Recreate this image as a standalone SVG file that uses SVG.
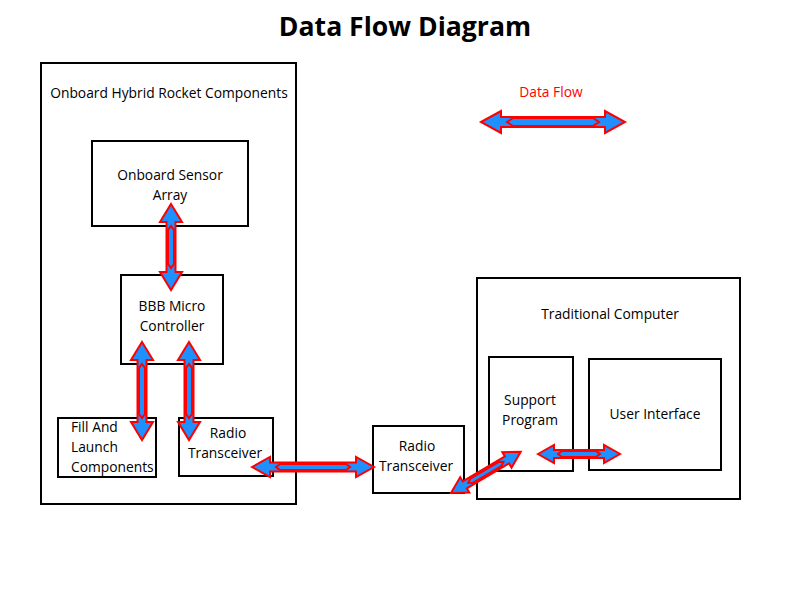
<svg xmlns="http://www.w3.org/2000/svg" width="800" height="600" viewBox="0 0 800 600">
<style>
.box{fill:#fff;stroke:#000;stroke-width:2}
.t{font-family:"Open Sans","Liberation Sans",sans-serif;font-size:13.8px;fill:#000}
.c{text-anchor:middle}
.arr{fill:#1e90ff;stroke:#ff0000;stroke-width:2;stroke-linejoin:miter}
</style>
<rect width="800" height="600" fill="#fff"/>
<text x="405" y="36" text-anchor="middle" font-family="'Open Sans','Liberation Sans',sans-serif" font-weight="bold" font-size="26.6">Data Flow Diagram</text>

<g id="rocket">
<rect class="box" x="41" y="63" width="255" height="441"/>
<text class="t" x="169" y="98" text-anchor="middle">Onboard Hybrid Rocket Components</text>
</g>
<g id="sensor">
<rect class="box" x="92" y="141" width="156" height="85"/>
<text class="t c" x="170" y="180">Onboard Sensor</text>
<text class="t c" x="170" y="200">Array</text>
</g>
<g id="bbb">
<rect class="box" x="121" y="275" width="102" height="89"/>
<text class="t c" x="172" y="311">BBB Micro</text>
<text class="t c" x="172" y="331">Controller</text>
</g>
<g id="fill">
<rect class="box" x="58" y="418" width="98" height="59"/>
<text class="t" x="71" y="432">Fill And</text>
<text class="t" x="71" y="452">Launch</text>
<text class="t" x="71" y="472">Components</text>
</g>
<g id="radio1">
<rect class="box" x="179" y="418" width="94" height="58"/>
<text class="t c" x="228" y="438">Radio</text>
<text class="t c" x="225" y="458">Transceiver</text>
</g>
<g id="radio2">
<rect class="box" x="373" y="426" width="91" height="67"/>
<text class="t c" x="417" y="451">Radio</text>
<text class="t c" x="416" y="471">Transceiver</text>
</g>
<g id="computer">
<rect class="box" x="477" y="278" width="263" height="221"/>
<text class="t c" x="610" y="319">Traditional Computer</text>
</g>
<g id="support">
<rect class="box" x="489" y="357" width="84" height="114"/>
<text class="t c" x="530" y="405">Support</text>
<text class="t c" x="530" y="425">Program</text>
</g>
<g id="ui">
<rect class="box" x="589" y="359" width="132" height="111"/>
<text class="t c" x="655" y="419">User Interface</text>
</g>
<g id="legend">
<text x="551" y="97" text-anchor="middle" font-family="'Open Sans','Liberation Sans',sans-serif" font-size="13.8" fill="#ff0000">Data Flow</text>
</g>

<g id="connectors">
<g transform="translate(481,122)">
<path class="arr" d="M0,0 L20,-11 L20,-5 L124,-5 L124,-11 L144,0 L124,11 L124,5 L20,5 L20,11 Z"/>
<path class="arr" d="M26,0 L32,-4 L112,-4 L118,0 L112,4 L32,4 Z"/>
</g>
<g transform="translate(171,204) rotate(90)">
<path class="arr" d="M0,0 L18,-11 L18,-4.5 L68,-4.5 L68,-11 L86,0 L68,11 L68,4.5 L18,4.5 L18,11 Z"/>
<path class="arr" d="M22,0 L26,-3 L60,-3 L64,0 L60,3 L26,3 Z"/>
</g>
<g transform="translate(142,342) rotate(90)">
<path class="arr" d="M0,0 L18,-11 L18,-4.5 L80,-4.5 L80,-11 L98,0 L80,11 L80,4.5 L18,4.5 L18,11 Z"/>
<path class="arr" d="M22,0 L26,-3 L72,-3 L76,0 L72,3 L26,3 Z"/>
</g>
<g transform="translate(189,342) rotate(90)">
<path class="arr" d="M0,0 L18,-11 L18,-4.5 L80,-4.5 L80,-11 L98,0 L80,11 L80,4.5 L18,4.5 L18,11 Z"/>
<path class="arr" d="M22,0 L26,-3 L72,-3 L76,0 L72,3 L26,3 Z"/>
</g>
<g transform="translate(252,467)">
<path class="arr" d="M0,0 L18,-10 L18,-4.5 L104,-4.5 L104,-10 L122,0 L104,10 L104,4.5 L18,4.5 L18,10 Z"/>
<path class="arr" d="M24,0 L28,-3 L94,-3 L98,0 L94,3 L28,3 Z"/>
</g>
<g transform="translate(451,493) rotate(-30.6)">
<path class="arr" d="M0,0 L16,-9 L16,-4 L65,-4 L65,-9 L81,0 L65,9 L65,4 L16,4 L16,9 Z"/>
<path class="arr" d="M20,0 L24,-2.5 L57,-2.5 L61,0 L57,2.5 L24,2.5 Z"/>
</g>
<g transform="translate(538,454)">
<path class="arr" d="M0,0 L16,-9 L16,-4 L66,-4 L66,-9 L82,0 L66,9 L66,4 L16,4 L16,9 Z"/>
<path class="arr" d="M20,0 L24,-3 L58,-3 L62,0 L58,3 L24,3 Z"/>
</g>
</g>
</svg>
